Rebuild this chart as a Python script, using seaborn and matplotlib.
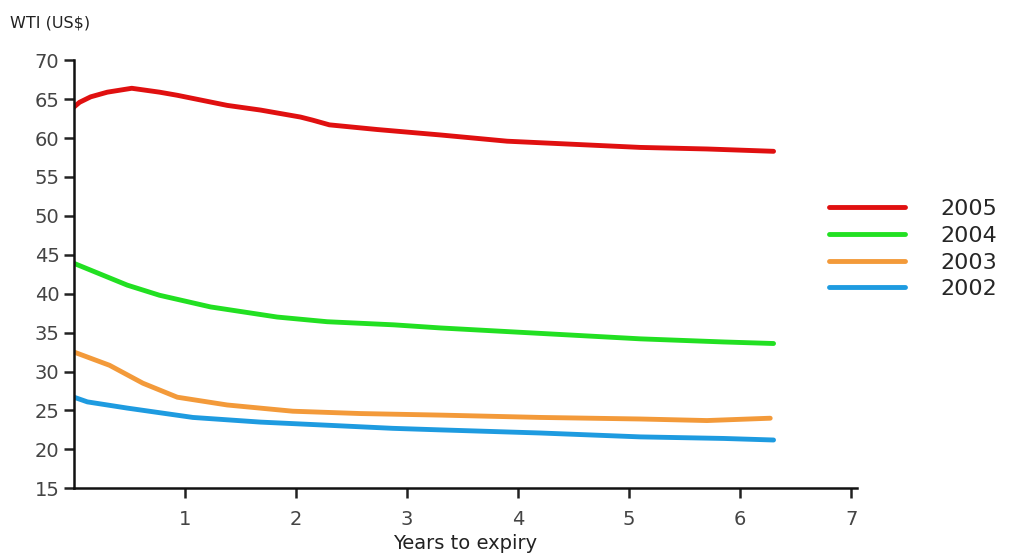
import matplotlib
matplotlib.use("Agg")
import matplotlib.pyplot as plt
import seaborn as sns
import pandas as pd

# --- data (years to expiry, WTI US$) ---
x_2005 = [0.0, 0.05, 0.15, 0.3, 0.52, 0.77, 0.93, 1.38, 1.68, 2.04, 2.15, 2.3, 2.73, 3.3, 3.9, 4.5, 5.1, 5.7, 6.3]
y_2005 = [64.0, 64.6, 65.3, 65.9, 66.4, 65.9, 65.5, 64.2, 63.6, 62.7, 62.3, 61.7, 61.1, 60.4, 59.6, 59.2, 58.8, 58.6, 58.3]

x_2004 = [0.0, 0.48, 0.77, 1.23, 1.83, 2.28, 2.88, 3.3, 4.2, 5.1, 5.85, 6.3]
y_2004 = [43.9, 41.1, 39.8, 38.3, 37.0, 36.4, 36.0, 35.6, 34.9, 34.2, 33.8, 33.6]

x_2003 = [0.0, 0.32, 0.62, 0.93, 1.38, 1.97, 2.58, 3.3, 4.2, 5.1, 5.7, 6.27]
y_2003 = [32.5, 30.8, 28.5, 26.7, 25.7, 24.9, 24.6, 24.4, 24.1, 23.9, 23.7, 24.0]

x_2002 = [0.0, 0.12, 0.48, 1.07, 1.68, 2.28, 2.87, 3.3, 4.2, 5.1, 5.85, 6.3]
y_2002 = [26.7, 26.1, 25.3, 24.1, 23.5, 23.1, 22.7, 22.5, 22.1, 21.6, 21.4, 21.2]

years = ["2005", "2004", "2003", "2002"]
colors = {"2005": "#e01010", "2004": "#22e022", "2003": "#f39a3a", "2002": "#1e9be0"}

series = {"2005": (x_2005, y_2005), "2004": (x_2004, y_2004),
          "2003": (x_2003, y_2003), "2002": (x_2002, y_2002)}
rows = []
for yr in years:
    xs, ys = series[yr]
    for a, b in zip(xs, ys):
        rows.append({"Years to expiry": a, "WTI": b, "Year": yr})
df = pd.DataFrame(rows)

sns.set_theme(style="ticks")
plt.rcParams["font.family"] = ["DejaVu Sans"]

fig = plt.figure(figsize=(10.14, 5.58), dpi=100)
ax = fig.add_axes([0.073, 0.125, 0.772, 0.767])

sns.lineplot(data=df, x="Years to expiry", y="WTI", hue="Year", hue_order=years,
             palette=colors, linewidth=3.5, ax=ax, estimator=None, sort=True)

ax.set_xlim(0, 7.05)
ax.set_ylim(15, 70)
ax.set_xticks([1, 2, 3, 4, 5, 6, 7])
ax.set_yticks(range(15, 71, 5))
ax.tick_params(axis="both", colors="#222222", labelcolor="#444444", labelsize=14,
               width=1.8, length=7)
ax.tick_params(axis="x", pad=9)
for s in ["top", "right"]:
    ax.spines[s].set_visible(False)
for s in ["left", "bottom"]:
    ax.spines[s].set_linewidth(1.8)
    ax.spines[s].set_color("#111111")

ax.set_xlabel("Years to expiry", fontsize=14, color="#222222", labelpad=3)
ax.set_ylabel("")
fig.text(0.010, 0.958, "WTI (US$)", fontsize=11.5, color="#222222", va="center")

handles, labels = ax.get_legend_handles_labels()
ax.legend_.remove()
fig.legend(handles, labels, loc="upper left", bbox_to_anchor=(0.818, 0.643),
           frameon=False, fontsize=16, handlelength=3.4, handletextpad=1.6,
           labelspacing=0.3, borderpad=0, borderaxespad=0)

fig.savefig("out.png", dpi=100)
